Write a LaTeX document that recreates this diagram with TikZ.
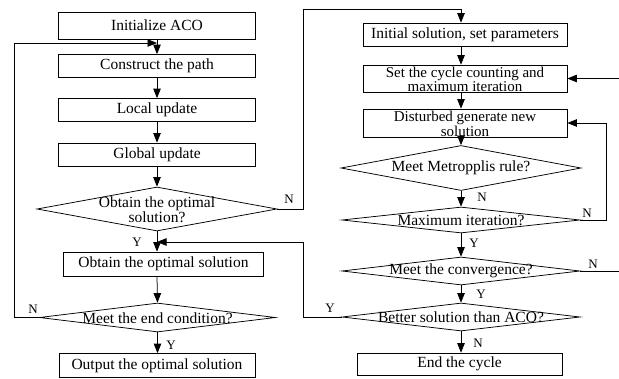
\documentclass[tikz,border=0pt]{standalone}
\usepackage{fontspec}
\setmainfont{Liberation Serif}
\usetikzlibrary{shapes.geometric,arrows.meta}
\begin{document}
\begin{tikzpicture}[x=1pt,y=-1pt,line width=0.75pt,
  box/.style={draw,rectangle,inner sep=0pt,align=center,font=\fontsize{15.5}{12.5}\selectfont},
  dia/.style={draw,diamond,inner sep=0pt},
  txt/.style={inner sep=0pt,align=center,font=\fontsize{15.5}{12}\selectfont},
  txtb/.style={inner sep=0pt,align=center,font=\fontsize{15}{11.5}\selectfont},
  lab/.style={inner sep=0pt,font=\fontsize{13}{13}\selectfont},
  arr/.style={-{Triangle[length=9.5pt,width=7.5pt]}}]
\useasboundingbox (0,0) rectangle (619,378);
% left column
\node[box,minimum width=197pt,minimum height=27pt] (l1) at (157,25.5) {Initialize ACO};
\node[box,minimum width=197pt,minimum height=23pt] (l2) at (157,66) {Construct the path};
\node[box,minimum width=197pt,minimum height=23pt] (l3) at (157,110) {Local update};
\node[box,minimum width=197pt,minimum height=23pt] (l4) at (157,154.5) {Global update};
\node[dia,minimum width=240pt,minimum height=44pt] (d1) at (157,209) {};
\node[txt] (d1t) at (157,210) {Obtain the optimal\\solution?};
\node[box,minimum width=200pt,minimum height=24pt] (obt) at (163.5,264) {Obtain the optimal solution};
\node[dia,minimum width=236pt,minimum height=29pt] (d2) at (157.5,317.5) {};
\node[txt] (d2t) at (157.5,318) {Meet the end condition?};
\node[box,minimum width=196pt,minimum height=24pt] (out) at (157,365.5) {Output the optimal solution};
% right column
\node[box,minimum width=204pt,minimum height=23pt] (r1) at (465,34.5) {Initial solution, set parameters};
\node[box,minimum width=204pt,minimum height=27pt] (r2) at (465,78.5) {};
\node[txtb] (r2t) at (465,79.3) {Set the cycle counting and\\maximum iteration};
\node[box,minimum width=204pt,minimum height=28pt] (r3) at (465,123) {};
\node[txtb] (r3t) at (465,123.8) {Disturbed generate new\\solution};
\node[dia,minimum width=240pt,minimum height=45pt] (d3) at (461,168) {};
\node[txt] (d3t) at (461,168) {Meet Metropplis rule?};
\node[dia,minimum width=238pt,minimum height=26pt] (d4) at (461,220) {};
\node[txt] (d4t) at (461,220.5) {Maximum iteration?};
\node[dia,minimum width=238pt,minimum height=28pt] (d5) at (461,271) {};
\node[txt] (d5t) at (461,271) {Meet the convergence?};
\node[dia,minimum width=238pt,minimum height=28pt] (d6) at (461,317) {};
\node[txt] (d6t) at (461,317.5) {Better solution than ACO?};
\node[box,minimum width=205pt,minimum height=22pt] (endc) at (459.5,364) {End the cycle};
% helper coordinates
\coordinate (rx) at (461,0);
\coordinate (cL) at (14,0);
\coordinate (j1) at (157,43);
\coordinate (cN1) at (303,9);
\coordinate (j2) at (157,242);
\coordinate (cR1) at (606,0);
\coordinate (cR2) at (622,0);
% left arrows
\draw[arr] (l1) -- (l2);
\draw[arr] (l2) -- (l3);
\draw[arr] (l3) -- (l4);
\draw[arr] (l4) -- (d1);
\draw[arr] (d1.south) -- (d1.south |- obt.north);
\draw[arr] (obt.south -| d1.south) -- (d2.north);
\draw[arr] (d2.south) -- (d2.south |- out.north);
\draw[arr] (d2.west) -- (d2.west -| cL) -- (cL |- j1) -- (j1);
% cross connection
\draw[arr] (d1.east) -- (d1.east -| cN1) -- (cN1) -- (cN1 -| rx) -- (r1.north -| rx);
% right arrows
\draw[arr] (r1.south -| rx) -- (r2.north -| rx);
\draw[arr] (r2.south -| rx) -- (r3.north -| rx);
\draw[arr] (r3.south -| rx) -- (d3.north);
\draw[arr] (d3.south) -- (d4.north);
\draw[arr] (d4.south) -- (d5.north);
\draw[arr] (d5.south) -- (d6.north);
\draw[arr] (d6.south) -- (d6.south |- endc.north);
\draw[arr] (d4.east) -- (d4.east -| cR1) -- (cR1 |- r3.east) -- (r3.east);
\draw[arr] (d5.east) -- (d5.east -| cR2) -- (cR2 |- r2.east) -- (r2.east);
\draw[arr] (d6.west) -- (d6.west -| cN1) -- (cN1 |- j2) -- (j2);
% labels
\node[lab] (y1) at (137,242) {Y};
\node[lab] (n1) at (289,199) {N};
\node[lab] (n2) at (33,309) {N};
\node[lab] (y2) at (171,345) {Y};
\node[lab] (n3) at (482,197) {N};
\node[lab] (n4) at (587,213) {N};
\node[lab] (y3) at (474,243) {Y};
\node[lab] (n5) at (593,264) {N};
\node[lab] (y4) at (481,294) {Y};
\node[lab] (y5) at (330,308) {Y};
\node[lab] (n6) at (478,343) {N};
\end{tikzpicture}
\end{document}
